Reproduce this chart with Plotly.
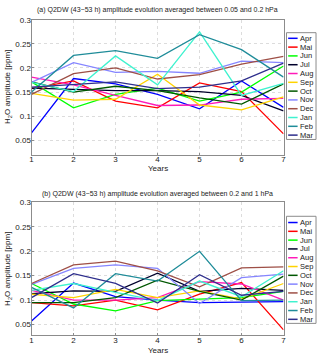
import plotly.graph_objects as go

years = [1, 2, 3, 4, 5, 6, 7]
months = ["Apr", "Mai", "Jun", "Jul", "Aug", "Sep", "Oct", "Nov", "Dec", "Jan", "Feb", "Mar"]
colors = ["#0000ff", "#ff0000", "#00ff00", "#00002b", "#ff1ab8", "#ffd300",
          "#005700", "#8585ff", "#9e4f46", "#3ff2cf", "#1f8c99", "#2e2e8c"]

# (a) 0.05 - 0.2 hPa
amp_a = {
    "Apr": [0.065, 0.178, 0.167, 0.145, 0.115, 0.173, 0.118],
    "Mai": [0.157, 0.173, 0.131, 0.117, 0.169, 0.151, 0.063],
    "Jun": [0.171, 0.117, 0.145, 0.158, 0.131, 0.150, 0.204],
    "Jul": [0.158, 0.155, 0.153, 0.153, 0.151, 0.143, 0.111],
    "Aug": [0.181, 0.165, 0.143, 0.122, 0.123, 0.135, 0.137],
    "Sep": [0.147, 0.133, 0.135, 0.187, 0.123, 0.113, 0.140],
    "Oct": [0.171, 0.150, 0.162, 0.153, 0.138, 0.125, 0.167],
    "Nov": [0.170, 0.211, 0.191, 0.193, 0.189, 0.214, 0.211],
    "Dec": [0.145, 0.188, 0.200, 0.177, 0.186, 0.208, 0.224],
    "Jan": [0.170, 0.151, 0.225, 0.165, 0.275, 0.143, 0.168],
    "Feb": [0.150, 0.226, 0.236, 0.220, 0.269, 0.238, 0.181],
    "Mar": [0.160, 0.165, 0.171, 0.157, 0.160, 0.173, 0.210],
}

# (b) 0.2 - 1 hPa
amp_b = {
    "Apr": [0.057, 0.135, 0.107, 0.100, 0.095, 0.096, 0.097],
    "Mai": [0.095, 0.088, 0.100, 0.080, 0.112, 0.136, 0.039],
    "Jun": [0.134, 0.092, 0.078, 0.099, 0.102, 0.105, 0.118],
    "Jul": [0.113, 0.119, 0.118, 0.155, 0.118, 0.124, 0.120],
    "Aug": [0.120, 0.100, 0.100, 0.105, 0.138, 0.133, 0.100],
    "Sep": [0.112, 0.105, 0.122, 0.105, 0.119, 0.102, 0.134],
    "Oct": [0.095, 0.095, 0.105, 0.141, 0.118, 0.100, 0.149],
    "Nov": [0.132, 0.165, 0.172, 0.165, 0.093, 0.146, 0.153],
    "Dec": [0.134, 0.172, 0.180, 0.160, 0.127, 0.166, 0.168],
    "Jan": [0.120, 0.134, 0.116, 0.099, 0.139, 0.107, 0.160],
    "Feb": [0.126, 0.084, 0.154, 0.139, 0.200, 0.099, 0.100],
    "Mar": [0.105, 0.154, 0.134, 0.094, 0.152, 0.110, 0.118],
}

yticks = [0.05, 0.1, 0.15, 0.2, 0.25, 0.3]
ytick_text = ["0.05", "0.1", "0.15", "0.2", "0.25", "0.3"]
titles = ["(a) Q2DW (43\u221253 h) amplitude evolution averaged between 0.05 and 0.2 hPa",
          "(b) Q2DW (43\u221253 h) amplitude evolution averaged between 0.2 and 1 hPa"]

W, H = 320, 357
FONT = "Liberation Sans, Arial, sans-serif"

fig = go.Figure()
for i, m in enumerate(months):
    fig.add_trace(go.Scatter(x=years, y=amp_a[m], mode="lines", name=m,
                             line=dict(color=colors[i], width=1.3),
                             xaxis="x", yaxis="y", showlegend=False))
for i, m in enumerate(months):
    fig.add_trace(go.Scatter(x=years, y=amp_b[m], mode="lines", name=m,
                             line=dict(color=colors[i], width=1.3),
                             xaxis="x2", yaxis="y2", showlegend=False))

def px_x(p):
    return p / W

def px_y(p):
    return 1 - p / H

axis_common = dict(showline=True, mirror=True, linecolor="#8c8c8c", linewidth=1,
                   ticks="inside", ticklen=2, tickcolor="#8c8c8c",
                   showgrid=True, gridcolor="#dcdcdc", griddash="dot", gridwidth=1,
                   zeroline=False, tickfont=dict(size=8, color="#222", family=FONT))

xdom = [px_x(30), px_x(286)]
fig.update_layout(
    width=W, height=H, margin=dict(l=0, r=0, t=0, b=0),
    paper_bgcolor="white", plot_bgcolor="white",
    font=dict(family=FONT, size=8, color="#222"),
    xaxis=dict(domain=xdom, range=[1, 7], tickvals=years, anchor="y",
               ticklabelstandoff=-3, **axis_common),
    yaxis=dict(domain=[px_y(152.3), px_y(16)], range=[0.02, 0.3], tickvals=yticks,
               ticktext=ytick_text, anchor="x", ticklabelstandoff=-2, **axis_common),
    xaxis2=dict(domain=xdom, range=[1, 7], tickvals=years, anchor="y2",
                ticklabelstandoff=-3, **axis_common),
    yaxis2=dict(domain=[px_y(335), px_y(200.7)], range=[0.028, 0.3], tickvals=yticks,
                ticktext=ytick_text, anchor="x2", ticklabelstandoff=-2, **axis_common),
)

annotations = []
shapes = []
panels = [(5.7, 84, 166, 29, 137, 34.7), (192, 268, 350.7, 214.7, 323, 221)]
for k, (ty, ylab_y, xlab_y, lg_top, lg_bot, first_y) in enumerate(panels):
    annotations.append(dict(text=titles[k], x=px_x(158), y=px_y(ty), xref="paper", yref="paper",
                            showarrow=False, xanchor="center", yanchor="middle",
                            font=dict(size=7, color="#222", family=FONT)))
    annotations.append(dict(text="H<sub>2</sub>O amplitude [ppm]", x=px_x(6), y=px_y(ylab_y),
                            xref="paper", yref="paper", showarrow=False, textangle=-90,
                            xanchor="center", yanchor="middle",
                            font=dict(size=8, color="#222", family=FONT)))
    annotations.append(dict(text="Years", x=px_x(158), y=px_y(xlab_y), xref="paper", yref="paper",
                            showarrow=False, xanchor="center", yanchor="middle",
                            font=dict(size=8, color="#222", family=FONT)))
    # legend box
    shapes.append(dict(type="rect", xref="paper", yref="paper",
                       x0=px_x(289), x1=px_x(319), y0=px_y(lg_bot), y1=px_y(lg_top),
                       line=dict(color="#8c8c8c", width=1), fillcolor="white", layer="above"))
    for i, m in enumerate(months):
        yy = first_y + i * 8.9
        shapes.append(dict(type="line", xref="paper", yref="paper",
                           x0=px_x(290.7), x1=px_x(300.3), y0=px_y(yy), y1=px_y(yy),
                           line=dict(color=colors[i], width=1.5), layer="above"))
        annotations.append(dict(text=m, x=px_x(300.5), y=px_y(yy), xref="paper", yref="paper",
                                showarrow=False, xanchor="left", yanchor="middle",
                                font=dict(size=7.5, color="#222", family=FONT)))

fig.update_layout(annotations=annotations, shapes=shapes)
fig.write_html("out.html", config={"displayModeBar": False},
               post_script="document.body.style.margin='0';document.body.style.overflow='hidden';")
